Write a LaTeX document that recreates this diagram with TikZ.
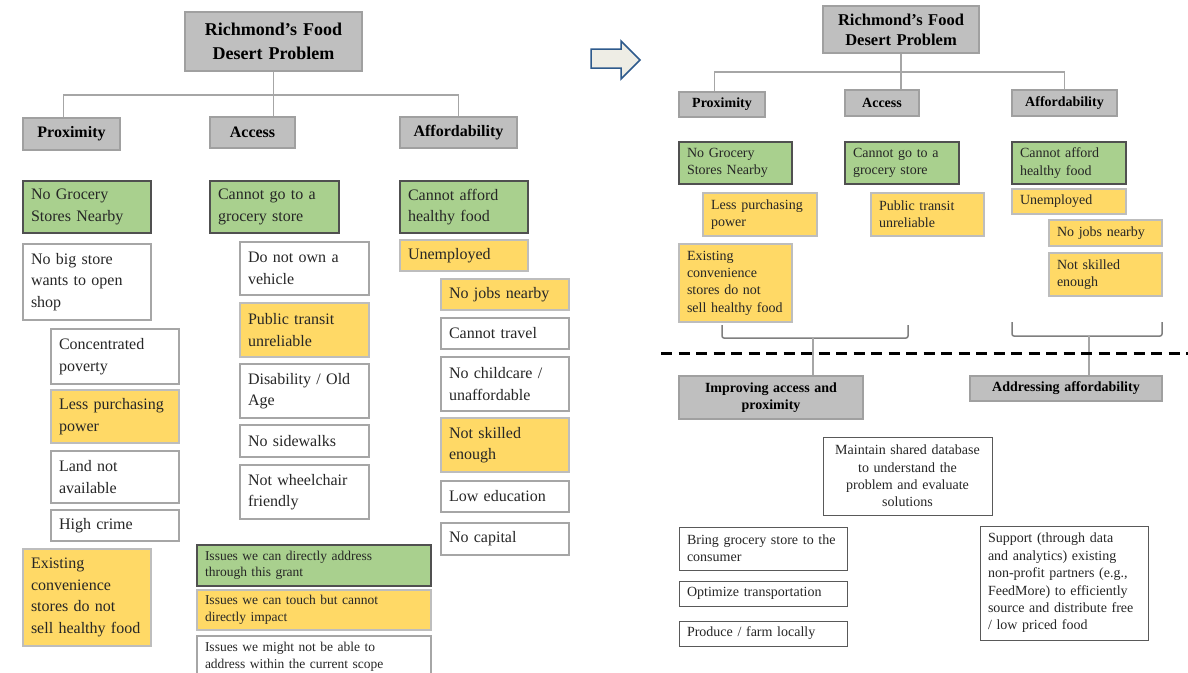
\documentclass[tikz,border=0pt]{standalone}
\usepackage{fontspec}
\setmainfont{Liberation Serif}
\definecolor{txt}{HTML}{262626}
\definecolor{gbox}{HTML}{BFBFBF}
\definecolor{gline}{HTML}{A0A0A0}
\definecolor{gfill}{HTML}{A9D08E}
\definecolor{gborder}{HTML}{505050}
\definecolor{yfill}{HTML}{FFD966}
\definecolor{yborder}{HTML}{BDBDBD}
\definecolor{wborder}{HTML}{A6A6A6}
\definecolor{dborder}{HTML}{595959}
\definecolor{tline}{HTML}{A6A6A6}
\definecolor{bline}{HTML}{7F7F7F}
\definecolor{afill}{HTML}{EEEDE5}
\definecolor{aline}{HTML}{2E5A8C}
\newcommand\bx[7]{%
  \pgfmathsetmacro\bxw{#4-#2}%
  \pgfmathsetmacro\bxh{#5-#3}%
  \pgfmathsetmacro\bxt{#4-#2-16}%
  \node[#6,minimum width=\bxw pt,minimum height=\bxh pt,text width=\bxt pt] (#1) at ({(#2+#4)/2},{(#3+#5)/2}) {#7};}
\begin{document}
\begin{tikzpicture}[x=1pt,y=-1pt,
  base/.style={draw, line width=1.1pt, inner xsep=8pt, inner ysep=0pt, align=left, text=txt, font=\fontsize{16}{21.5}\selectfont},
  hdr/.style={base, fill=gbox, draw=gline, align=center, text=black, font=\bfseries\fontsize{16}{21}\selectfont},
  ttl/.style={hdr, font=\bfseries\fontsize{18}{24}\selectfont},
  hdrtwo/.style={hdr, font=\bfseries\fontsize{14}{17}\selectfont},
  ttltwo/.style={hdr, font=\bfseries\fontsize{16.5}{20}\selectfont},
  grn/.style={base, fill=gfill, draw=gborder},
  yel/.style={base, fill=yfill, draw=yborder},
  wht/.style={base, fill=white, draw=wborder},
  wdk/.style={base, fill=white, draw=dborder, line width=1pt},
  sm/.style={font=\fontsize{14}{17.4}\selectfont},
  leg/.style={font=\fontsize{13.5}{16.5}\selectfont},
  tree/.style={draw=tline, line width=1.3pt},
  brk/.style={draw=bline, line width=1.5pt, rounded corners=2pt},
  stem/.style={draw=tline, line width=1.3pt},
  sep/.style={draw=black, line width=3pt, dash pattern=on 11pt off 6.5pt},
  arr/.style={draw=aline, fill=afill, line width=1.5pt, line join=miter}
]
\useasboundingbox (0,0) rectangle (1188,672);
\fill[white] (0,0) rectangle (1188,672);

% ---------------- left diagram ----------------
\bx{t1}{185}{12}{362}{71}{ttl}{Richmond’s Food\\Desert Problem}
\bx{p1}{23}{118}{120}{150}{hdr}{Proximity}
\bx{a1}{210}{117}{295}{148}{hdr}{Access}
\bx{f1}{400}{117}{517}{148}{hdr}{Affordability}
\coordinate (tj1) at (273.5,95);
\draw[tree] (t1.south) -- (tj1);
\draw[tree] ([xshift=41pt]p1.north west) |- (tj1) -| (f1.north);
\draw[tree] (tj1) -- (tj1 |- a1.north);

\bx{n1}{23}{181}{151}{233}{grn}{No Grocery\\Stores Nearby}
\bx{nb}{23}{244}{151}{320}{wht}{No big store\\wants to open\\shop}
\bx{cp}{51}{329}{179}{384}{wht}{Concentrated\\poverty}
\bx{lp}{51}{390}{179}{443}{yel}{Less purchasing\\power}
\bx{ln}{51}{451}{179}{503}{wht}{Land not\\available}
\bx{hc}{51}{510}{179}{541}{wht}{High crime}
\bx{ec}{23}{549}{151}{646}{yel}{Existing\\convenience\\stores do not\\sell healthy food}

\bx{c1}{210}{181}{339}{233}{grn}{Cannot go to a\\grocery store}
\bx{dv}{240}{242}{369}{295}{wht}{Do not own a\\vehicle}
\bx{pt}{240}{303}{369}{357}{yel}{Public transit\\unreliable}
\bx{da}{240}{364}{369}{418}{wht}{Disability / Old\\Age}
\bx{ns}{240}{425}{369}{457}{wht}{No sidewalks}
\bx{nw}{240}{465}{369}{519}{wht}{Not wheelchair\\friendly}

\bx{lga}{197}{545}{431}{586}{grn,leg}{Issues we can directly address\\through this grant}
\bx{lgb}{197}{590}{431}{630}{yel,leg}{Issues we can touch but cannot\\directly impact}
\bx{lgc}{197}{636}{431}{677}{wht,leg}{Issues we might not be able to\\address within the current scope}

\bx{h1}{400}{181}{528}{233}{grn}{Cannot afford\\healthy food}
\bx{ue}{400}{240}{528}{271}{yel}{Unemployed}
\bx{nj}{441}{279}{569}{310}{yel}{No jobs nearby}
\bx{ct}{441}{318}{569}{349}{wht}{Cannot travel}
\bx{nc}{441}{357}{569}{411}{wht}{No childcare /\\unaffordable}
\bx{sk}{441}{418}{569}{472}{yel}{Not skilled\\enough}
\bx{le}{441}{481}{569}{512}{wht}{Low education}
\bx{nk}{441}{523}{569}{555}{wht}{No capital}

% ---------------- arrow ----------------
\draw[arr] (591,49) -- (621,49) -- (621,41) -- (640,60) -- (621,79) -- (621,68) -- (591,68) -- cycle;

% ---------------- right diagram ----------------
\bx{t2}{823}{6}{979}{53}{ttltwo}{Richmond’s Food\\Desert Problem}
\bx{p2}{679}{92}{765}{117}{hdrtwo}{Proximity}
\bx{a2}{845}{90}{919}{116}{hdrtwo}{Access}
\bx{f2}{1012}{90}{1117}{116}{hdrtwo}{Affordability}
\coordinate (tj2) at (901,72);
\draw[tree] (t2.south) -- (tj2);
\draw[tree] ([xshift=36pt]p2.north west) |- (tj2) -| (f2.north);
\draw[tree] (tj2) -- (tj2 |- a2.north);

\bx{n2}{679}{142}{792}{184}{grn,sm}{No Grocery\\Stores Nearby}
\bx{c2}{845}{142}{959}{184}{grn,sm}{Cannot go to a\\grocery store}
\bx{h2}{1012}{142}{1126}{184}{grn,sm}{Cannot afford\\healthy food}
\bx{lpb}{703}{193}{817}{236}{yel,sm}{Less purchasing\\power}
\bx{ptb}{871}{193}{984}{236}{yel,sm}{Public transit\\unreliable}
\bx{ueb}{1012}{189}{1126}{214}{yel,sm}{Unemployed}
\bx{njb}{1049}{220}{1162}{246}{yel,sm}{No jobs nearby}
\bx{skb}{1049}{253}{1162}{296}{yel,sm}{Not skilled\\enough}
\bx{ecb}{679}{244}{792}{322}{yel,sm}{Existing\\convenience\\stores do not\\sell healthy food}

\bx{im}{679}{376}{863}{419}{hdrtwo}{Improving access and\\proximity}
\bx{ad}{970}{376}{1162}{401}{hdrtwo}{Addressing affordability}

\coordinate (bla) at (722,325);
\coordinate (blb) at (908,325);
\coordinate (blm) at (813,338);
\coordinate (bra) at (1012,322);
\coordinate (brb) at (1162,322);
\coordinate (brm) at (1089,336);
\draw[brk] (bla) |- (blm) -| (blb);
\draw[brk] (bra) |- (brm) -| (brb);
\draw[stem] (blm) -- (blm |- im.north);
\draw[stem] (brm) -- (brm |- ad.north);
\draw[sep] (661,353) -- (1188,353);

\bx{md}{823}{437}{992}{515}{wdk,sm,align=center}{Maintain shared database\\to understand the\\problem and evaluate\\solutions}
\bx{bg}{679}{527}{847}{570}{wdk,sm}{Bring grocery store to the\\consumer}
\bx{ot}{679}{581}{847}{606}{wdk,sm}{Optimize transportation}
\bx{pf}{679}{621}{847}{646}{wdk,sm}{Produce / farm locally}
\bx{sp}{980}{526}{1148}{640}{wdk,sm}{Support (through data\\and analytics) existing\\non-profit partners (e.g.,\\FeedMore) to efficiently\\source and distribute free\\/ low priced food}
\end{tikzpicture}
\end{document}
